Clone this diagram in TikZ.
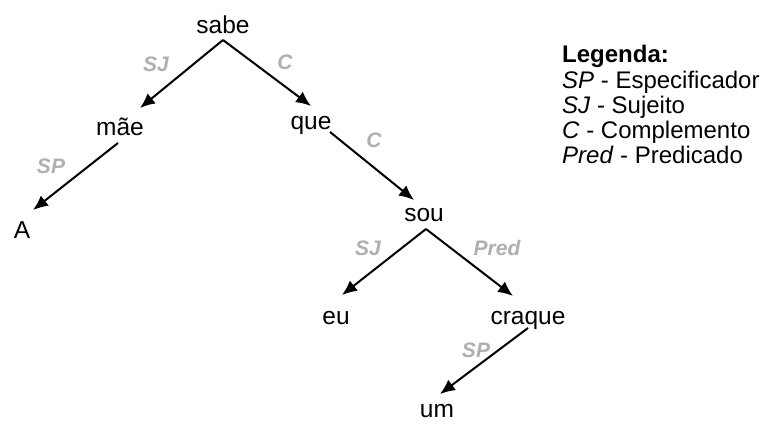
\documentclass[tikz,border=0pt]{standalone}
\usepackage{fontspec}
\setmainfont{Liberation Sans}
\usetikzlibrary{arrows.meta}
\definecolor{lblgray}{RGB}{175,175,175}
\begin{document}
\begin{tikzpicture}[x=1pt,y=-1pt,
  word/.style={anchor=base,inner sep=0pt,font=\fontsize{24.5}{28}\selectfont},
  rel/.style={inner sep=0pt,text=lblgray,font=\fontsize{21}{25}\selectfont\bfseries\itshape},
  leg/.style={anchor=base west,inner sep=0pt,font=\fontsize{24}{28}\selectfont},
  arr/.style={line width=2pt,-{Latex[length=15pt,width=13pt]}}]
\useasboundingbox (0,0) rectangle (776,423);
% words
\node[word] (sabe) at (223,33) {sabe};
\node[word] (mae) at (120,135) {mãe};
\node[word] (que) at (311,129) {que};
\node[word] (A) at (22,238) {A};
\node[word] (sou) at (424,221) {sou};
\node[word] (eu) at (336,324) {eu};
\node[word] (craque) at (528,324) {craque};
\node[word] (um) at (437,417) {um};
% connectors
\draw[arr] ([shift={(0,7)}]sabe.base) -- ([shift={(20,-27)}]mae.base);
\draw[arr] ([shift={(0,7)}]sabe.base) -- ([shift={(0,-23)}]que.base);
\draw[arr] ([shift={(-2,8)}]mae.base) -- ([shift={(11,-28)}]A.base);
\draw[arr] ([shift={(19,3)}]que.base) -- ([shift={(-10,-21)}]sou.base);
\draw[arr] ([shift={(2,8)}]sou.base) -- ([shift={(6,-29)}]eu.base);
\draw[arr] ([shift={(2,8)}]sou.base) -- ([shift={(-15,-28)}]craque.base);
\draw[arr] ([shift={(0,4)}]craque.base) -- ([shift={(3,-23)}]um.base);
% relation labels
\node[rel] (l1) at (156,64) {SJ};
\node[rel] (l2) at (285,62) {C};
\node[rel] (l3) at (51,166) {SP};
\node[rel] (l4) at (374,140) {C};
\node[rel] (l5) at (368,248) {SJ};
\node[rel] (l6) at (497,248) {Pred};
\node[rel] (l7) at (476,350) {SP};
% legend
\node[leg,font=\fontsize{24}{28}\selectfont\bfseries] (lg0) at (562,62) {Legenda:};
\node[leg] (lg1) at (562,88) {\textit{SP} - Especificador};
\node[leg] (lg2) at (562,113) {\textit{SJ} - Sujeito};
\node[leg] (lg3) at (562,138) {\textit{C} - Complemento};
\node[leg] (lg4) at (562,163) {\textit{Pred} - Predicado};
\end{tikzpicture}
\end{document}
